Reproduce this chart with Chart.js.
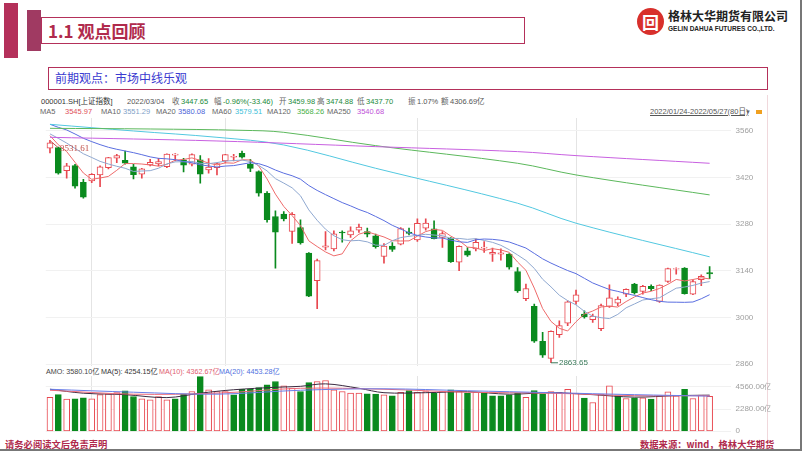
<!DOCTYPE html>
<html>
<head>
<meta charset="utf-8">
<script src="https://cdn.jsdelivr.net/npm/chart.js@4.4.0/dist/chart.umd.min.js"></script>
<style>
  html, body { margin: 0; padding: 0; background: #fff; }
  #page { position: relative; width: 802px; height: 451px; overflow: hidden;
          font-family: "Noto Sans CJK SC", "Noto Sans", sans-serif; }
  .t { position: absolute; white-space: nowrap; font-size: 7.5px; line-height: 10px; color: #666;
       font-family: "Liberation Sans", "Noto Sans CJK SC", sans-serif; }
  .g { color: #1b8a3a; }
  canvas { position: absolute; left: 0; top: 0; }
</style>
</head>
<body>
<div id="page">

  <!-- slide header -->
  <div style="position:absolute;left:4px;top:3px;width:14px;height:55px;background:#b4305a;"></div>
  <div style="position:absolute;left:27px;top:10px;width:14px;height:41px;background:#a03a62;"></div>
  <div style="position:absolute;left:41px;top:17px;width:484px;height:27px;border:1px solid #b4305a;box-sizing:border-box;"></div>
  <div style="position:absolute;left:48px;top:20px;font-size:17px;font-weight:bold;color:#b02a4c;line-height:22px;">1.1 观点回顾</div>

  <div style="position:absolute;left:637px;top:8px;width:27px;height:27px;border-radius:50%;background:#d8302c;color:#fff;font-size:17px;font-weight:bold;line-height:27px;text-align:center;">回</div>
  <div style="position:absolute;left:668px;top:8px;font-size:12px;font-weight:bold;color:#222;line-height:15px;">格林大华期货有限公司</div>
  <div style="position:absolute;left:668px;top:24px;font-size:6.5px;font-weight:bold;color:#222;line-height:9px;font-family:'Liberation Sans',sans-serif;">GELIN DAHUA FUTURES CO.,LTD.</div>

  <div style="position:absolute;left:48px;top:67px;width:720px;height:23px;border:1px solid #b4305a;box-sizing:border-box;"></div>
  <div style="position:absolute;left:55px;top:70px;font-size:12px;color:#3a3ad0;line-height:16px;">前期观点：市场中线乐观</div>

  <!-- wind header -->
  <div class="t" style="left:41px;top:97px;color:#333;">000001.SH[上证指数]</div>
  <div class="t" style="left:127px;top:97px;color:#555;">2022/03/04</div>
  <div class="t" style="left:172px;top:97px;">收</div><div class="t g" style="left:181px;top:97px;">3447.65</div>
  <div class="t" style="left:214px;top:97px;">幅</div><div class="t g" style="left:223px;top:97px;">-0.96%(-33.46)</div>
  <div class="t" style="left:279px;top:97px;">开</div><div class="t g" style="left:288px;top:97px;">3459.98</div>
  <div class="t" style="left:317px;top:97px;">高</div><div class="t g" style="left:326px;top:97px;">3474.88</div>
  <div class="t" style="left:357px;top:97px;">低</div><div class="t g" style="left:366px;top:97px;">3437.70</div>
  <div class="t" style="left:408px;top:97px;">振</div><div class="t" style="left:417px;top:97px;color:#555;">1.07%</div>
  <div class="t" style="left:441px;top:97px;">额</div><div class="t" style="left:450px;top:97px;color:#555;">4306.69亿</div>

  <div class="t" style="left:40px;top:107px;">MA5</div><div class="t" style="left:65px;top:107px;color:#e0505a;">3545.97</div>
  <div class="t" style="left:101px;top:107px;">MA10</div><div class="t" style="left:123px;top:107px;color:#7f9fc8;">3551.29</div>
  <div class="t" style="left:156px;top:107px;">MA20</div><div class="t" style="left:178px;top:107px;color:#4a5fd8;">3580.08</div>
  <div class="t" style="left:212px;top:107px;">MA60</div><div class="t" style="left:235px;top:107px;color:#40c0d8;">3579.51</div>
  <div class="t" style="left:267px;top:107px;">MA120</div><div class="t" style="left:297px;top:107px;color:#48b048;">3568.26</div>
  <div class="t" style="left:327px;top:107px;">MA250</div><div class="t" style="left:357px;top:107px;color:#c050d8;">3540.68</div>

  <div class="t" style="left:650px;top:107px;color:#555;text-decoration:underline;">2022/01/24-2022/05/27(80日)</div>
  <div class="t" style="left:745px;top:107px;color:#666;font-size:6px;">▼</div>
  <div style="position:absolute;left:756px;top:110px;width:6px;height:4px;background:#f0a020;"></div>

  <div class="t" style="left:46px;top:367px;color:#444;font-size:7.2px;">AMO: 3580.10亿</div>
  <div class="t" style="left:101px;top:367px;color:#333;font-size:7.2px;">MA(5): 4254.15亿</div>
  <div class="t" style="left:159px;top:367px;color:#e06070;font-size:7.2px;">MA(10): 4362.67亿</div>
  <div class="t" style="left:219px;top:367px;color:#5070e0;font-size:7.2px;">MA(20): 4453.28亿</div>

  <div style="position:absolute;left:767px;top:95px;width:1px;height:345px;background:#f0d8dc;"></div>

  <!-- footer -->
  <div style="position:absolute;left:5px;top:438px;font-size:9.3px;font-weight:bold;color:#b02a4c;line-height:12px;">请务必阅读文后免责声明</div>
  <div style="position:absolute;left:640px;top:438px;font-size:9.3px;font-weight:bold;color:#b02a4c;line-height:12px;">数据来源：wind，格林大华期货</div>
  <div style="position:absolute;left:800px;top:0;width:2px;height:451px;background:#777;"></div>
  <div style="position:absolute;left:0;top:449px;width:802px;height:2px;background:#777;"></div>

  <canvas id="price-chart" width="802" height="451"></canvas>
  <canvas id="amo-chart" width="802" height="451"></canvas>
</div>

<script>
// 交易日 2022/01/24 - 2022/05/27
const dates = ['01/24','01/25','01/26','01/27','01/28','02/07','02/08','02/09','02/10','02/11',
  '02/14','02/15','02/16','02/17','02/18','02/21','02/22','02/23','02/24','02/25',
  '02/28','03/01','03/02','03/03','03/04','03/07','03/08','03/09','03/10','03/11',
  '03/14','03/15','03/16','03/17','03/18','03/21','03/22','03/23','03/24','03/25',
  '03/28','03/29','03/30','03/31','04/01','04/06','04/07','04/08','04/11','04/12',
  '04/13','04/14','04/15','04/18','04/19','04/20','04/21','04/22','04/25','04/26',
  '04/27','04/28','04/29','05/05','05/06','05/09','05/10','05/11','05/12','05/13',
  '05/16','05/17','05/18','05/19','05/20','05/23','05/24','05/25','05/26','05/27'];

const opens = [3508,3510,3441,3456,3406,3410,3428,3450,3478,3472,
  3452,3430,3458,3461,3453,3487,3473,3460,3473,3443,
  3450,3470,3481,3493,3459.98,3438,3373,3303,3310,3258,
  3270,3193,3110,3211,3206,3256,3248,3262,3258,3245,
  3183,3214,3220,3256,3233,3268,3266,3240,3238,3166,
  3200,3206,3208,3190,3190,3190,3138,3056,3033,2928,
  2877,2948,2983,3048,3010,2993,2966,3033,3043,3070,
  3100,3078,3093,3048,3108,3145,3148,3070,3113,3135];
const highs = [3531.61,3512,3463,3460,3415,3432,3455,3481,3490,3500,
  3460,3448,3475,3478,3491,3492,3478,3491,3486,3477,
  3463,3490,3490,3500,3474.88,3440,3378,3320,3318,3315,
  3293,3195,3175,3258,3260,3260,3272,3280,3268,3250,
  3222,3225,3270,3268,3296,3296,3290,3258,3240,3215,
  3210,3236,3228,3208,3206,3192,3150,3100,3040,2955,
  2960,2990,3050,3082,3020,3010,3040,3098,3062,3086,
  3102,3096,3098,3098,3148,3149,3150,3112,3128,3153];
const lows = [3494,3430,3418,3388,3358,3405,3393,3446,3465,3460,
  3416,3418,3455,3455,3450,3470,3437,3455,3403,3433,
  3428,3464,3470,3478,3437.70,3364,3286,3148,3290,3222,
  3220,3062,3026,3203,3200,3226,3240,3255,3242,3208,
  3163,3198,3218,3248,3228,3262,3236,3210,3165,3140,
  3183,3200,3195,3168,3172,3145,3075,3050,2925,2880,
  2863.65,2940,2975,3040,2998,2985,2960,3030,3035,3062,
  3070,3070,3080,3045,3105,3130,3070,3068,3095,3116];
const closes = [3524.11,3433.06,3455.67,3394.25,3361.44,3429.58,3452.63,3479.95,3485.91,3462.95,
  3428.88,3446.09,3465.83,3468.04,3490.76,3490.61,3457.15,3489.15,3429.96,3451.41,
  3462.31,3488.83,3484.19,3481.11,3447.65,3372.86,3293.53,3256.39,3296.09,3309.75,
  3223.53,3063.97,3170.71,3215.04,3251.07,3253.69,3259.86,3271.03,3250.26,3212.24,
  3214.50,3203.94,3266.60,3252.20,3282.72,3283.43,3236.70,3251.85,3167.13,3213.33,
  3186.82,3225.64,3211.24,3195.52,3194.03,3151.05,3079.81,3086.92,2928.51,2886.43,
  2958.28,2975.49,3047.06,3067.76,3001.56,3004.14,3035.84,3058.70,3054.99,3084.28,
  3073.75,3093.70,3085.98,3096.97,3146.57,3146.86,3070.93,3107.46,3123.11,3130.24];

const ma5 = [3545.97,3518.60,3498.09,3465.93,3433.71,3414.80,3418.71,3423.57,3441.90,3462.20,
  3462.06,3460.76,3457.93,3454.36,3459.92,3472.27,3474.48,3479.14,3471.53,3463.66,
  3458.00,3464.33,3463.34,3473.57,3472.82,3454.93,3415.87,3370.31,3333.30,3305.72,
  3275.86,3229.95,3212.81,3196.60,3184.86,3190.90,3230.07,3250.14,3257.18,3249.42,
  3241.58,3230.39,3229.51,3229.90,3243.99,3257.78,3264.33,3261.38,3244.37,3230.49,
  3211.17,3208.95,3200.83,3206.51,3202.65,3195.50,3166.33,3141.47,3088.06,3026.54,
  2987.99,2967.13,2959.15,2987.00,3010.03,3019.20,3031.27,3033.60,3031.05,3047.59,
  3061.51,3073.08,3078.54,3086.94,3099.39,3114.02,3109.46,3113.76,3118.99,3115.72];
const ma10 = [3551.29,3537.85,3523.68,3507.57,3491.59,3480.38,3468.66,3460.83,3453.92,3447.96,
  3438.43,3439.74,3440.75,3448.13,3461.06,3467.17,3467.62,3468.54,3462.94,3461.79,
  3465.13,3469.41,3471.24,3472.55,3468.24,3456.46,3440.10,3416.82,3403.44,3389.27,
  3365.39,3322.91,3291.56,3264.95,3245.29,3233.38,3230.01,3231.47,3226.89,3217.14,
  3216.24,3230.23,3239.82,3243.54,3246.70,3249.68,3247.36,3245.44,3237.13,3237.24,
  3234.47,3236.64,3231.11,3225.44,3216.57,3203.33,3187.64,3171.15,3147.29,3114.60,
  3091.74,3066.73,3050.31,3037.53,3018.29,3003.60,2999.20,2996.38,3009.03,3028.81,
  3040.36,3052.18,3056.07,3058.99,3073.49,3087.76,3091.27,3096.15,3102.96,3107.56];
const ma20 = [3580.08,3571.0,3563.0,3551.0,3538.0,3528.0,3519.0,3511.0,3505.0,3500.0,
  3494.86,3488.80,3482.22,3477.85,3476.33,3473.78,3468.14,3464.69,3458.43,3454.88,
  3451.78,3454.58,3456.00,3460.34,3464.65,3461.82,3453.86,3442.68,3433.19,3425.53,
  3415.26,3396.16,3381.40,3368.75,3356.77,3344.92,3335.06,3324.15,3315.17,3303.21,
  3290.82,3276.57,3265.69,3254.25,3246.00,3241.53,3238.69,3238.46,3232.01,3227.19,
  3225.36,3233.44,3235.47,3234.49,3231.64,3226.51,3217.50,3208.30,3192.21,3175.92,
  3163.11,3151.69,3140.71,3131.49,3117.43,3103.47,3093.42,3083.77,3078.16,3071.71,
  3066.05,3059.46,3053.19,3048.26,3045.89,3045.68,3045.24,3046.27,3056.00,3068.19];

// 长周期均线，按图读数的节点 [序号, 数值]
const ma60Pts = [[0,3580],[10,3560],[20,3541],[28,3518],[39,3448],[56,3343],[63,3283],[79,3182]];
const ma120Pts = [[0,3568],[12,3566],[23,3562],[28,3556],[39,3516],[56,3463],[63,3428],[79,3368]];
const ma250Pts = [[0,3541],[20,3530],[39,3513],[56,3498],[63,3486],[79,3463]];

// 成交额(亿)
const amo = [3490,3760,3290,3320,3420,3320,3760,3830,3970,4140,
  3560,3320,3220,3560,3220,3320,3800,4070,5590,4240,
  4070,4070,3730,4300,4306.69,4470,4750,5090,4640,4410,
  4070,4980,5090,5190,4240,4070,3900,3900,3830,3800,
  3730,3630,4000,4170,4000,4070,3900,4070,4240,4070,
  3900,4000,4000,3630,3630,3730,3900,3490,4170,3830,
  4070,4000,4300,3900,3390,2950,3800,4640,3630,3360,
  3420,3420,3290,3630,4030,3630,4300,3360,3700,3580.10];
const amoMa5Pts = [[0,4300],[4,3900],[9,3750],[14,3450],[18,3900],[22,4250],[27,4500],[30,4600],[33,4850],[37,4400],[40,3950],[45,3950],[50,4050],[55,3800],[60,3950],[65,3750],[70,3500],[75,3650],[79,3700]];
const amoMa10Pts = [[0,4200],[10,3800],[20,3900],[30,4400],[40,4300],[50,4000],[60,3900],[70,3650],[79,3650]];
const amoMa20Pts = [[0,4300],[10,4000],[20,3800],[30,4200],[40,4350],[50,4150],[60,3950],[70,3750],[79,3600]];

const priceTicks = [2860, 3000, 3140, 3280, 3420, 3560];
const amoTicks = [0, 2280, 4560];
const monthStarts = ['02/07', '03/01', '04/01', '05/05'];

const RED = '#e8474f';
const GREEN = '#0a8a1e';

const labels = dates.concat(['', '']);
const up = closes.map((c, i) => c >= opens[i]);
const amoUp = closes.map((c, i) => c >= (i ? closes[i - 1] : opens[i]));

function sparse(pts) {
  const arr = new Array(dates.length).fill(null);
  pts.forEach(([i, v]) => { arr[i] = v; });
  return arr;
}

function xAxis() {
  return {
    type: 'category',
    offset: true,
    grid: {
      offset: false,
      drawTicks: false,
      color: c => (c.tick && monthStarts.includes(labels[c.index])) ? '#e4e4e4' : 'rgba(0,0,0,0)'
    },
    border: { display: false },
    ticks: { display: false, autoSkip: false },
    afterFit: s => { s.height = 0; }
  };
}

function line(data, color, extra) {
  return Object.assign({
    type: 'line', data: data, borderColor: color, borderWidth: 1,
    pointRadius: 0, fill: false, order: 1, tension: 0
  }, extra || {});
}

const marks = {
  id: 'marks',
  afterDatasetsDraw(chart) {
    const { ctx, scales: { x, y } } = chart;
    ctx.save();
    ctx.lineWidth = 1;
    const hx = x.getPixelForValue(0), hy = y.getPixelForValue(highs[0]);
    ctx.strokeStyle = '#c0504a';
    ctx.beginPath(); ctx.moveTo(hx + 1, hy + 1); ctx.lineTo(hx + 8, hy + 7); ctx.stroke();
    ctx.fillStyle = '#c0504a';
    ctx.font = '9px "Liberation Serif"';
    ctx.textBaseline = 'middle';
    ctx.fillText(highs[0].toFixed(2), hx + 10, hy + 8);

    const li = lows.indexOf(Math.min(...lows));
    const lx = x.getPixelForValue(li), ly = y.getPixelForValue(lows[li]);
    ctx.strokeStyle = '#3a7a5a';
    ctx.beginPath(); ctx.moveTo(lx, ly); ctx.lineTo(lx + 7, ly); ctx.stroke();
    ctx.fillStyle = '#3a7a5a';
    ctx.font = '8px "Liberation Sans"';
    ctx.fillText(lows[li].toFixed(2), lx + 8, ly);
    ctx.restore();
  }
};

// 成交额轴的 0 刻度标签贴在绘图区底边，单独按刻度位置补写
const zeroLabel = {
  id: 'zeroLabel',
  afterDraw(chart) {
    const { ctx, scales: { y } } = chart;
    ctx.save();
    ctx.fillStyle = '#a0a0a0';
    ctx.font = '8px "Liberation Sans"';
    ctx.textBaseline = 'middle';
    ctx.fillText('0', y.left + 5, y.getPixelForValue(0) - 1);
    ctx.restore();
  }
};

new Chart(document.getElementById('price-chart'), {
  data: {
    labels: labels,
    datasets: [
      {
        type: 'bar', data: lows.map((l, i) => [l, highs[i]]),
        backgroundColor: up.map(u => u ? RED : GREEN),
        barThickness: 1, grouped: false, order: 3
      },
      {
        type: 'bar', data: opens.map((o, i) => [o, closes[i]]),
        backgroundColor: up.map(u => u ? '#ffffff' : GREEN),
        borderColor: up.map(u => u ? RED : GREEN),
        borderWidth: 1, borderSkipped: false,
        barThickness: 6, grouped: false, order: 2
      },
      line(sparse(ma250Pts), '#c860e0', { spanGaps: true, tension: 0.35 }),
      line(sparse(ma120Pts), '#5cb85c', { spanGaps: true, tension: 0.35 }),
      line(sparse(ma60Pts), '#52c8e0', { spanGaps: true, tension: 0.35 }),
      line(ma20, '#5a6ee0'),
      line(ma10, '#8fa8d0'),
      line(ma5, '#ee6a6a')
    ]
  },
  options: {
    responsive: false,
    animation: false,
    layout: { padding: { left: 45.8, right: 31.5, top: 118, bottom: 85 } },
    plugins: { legend: { display: false }, tooltip: { enabled: false } },
    scales: {
      x: xAxis(),
      y: {
        position: 'right',
        min: 2854, max: 3599,
        afterBuildTicks: s => { s.ticks = priceTicks.map(v => ({ value: v })); },
        afterFit: s => { s.width = 40; },
        grid: { color: '#f1f1f1', drawTicks: false },
        border: { display: false },
        ticks: {
          padding: 5, autoSkip: false, color: '#a0a0a0',
          font: { size: 8, family: 'Liberation Sans' },
          callback: v => String(v)
        }
      }
    }
  },
  plugins: [marks]
});

new Chart(document.getElementById('amo-chart'), {
  data: {
    labels: labels,
    datasets: [
      {
        type: 'bar', data: amo,
        backgroundColor: amoUp.map(u => u ? '#ffffff' : GREEN),
        borderColor: amoUp.map(u => u ? RED : GREEN),
        borderWidth: 1, borderSkipped: false,
        barThickness: 6, grouped: false, order: 2
      },
      line(sparse(amoMa20Pts), '#6a7ee8', { spanGaps: true, tension: 0.35 }),
      line(sparse(amoMa10Pts), '#ee6a7a', { spanGaps: true, tension: 0.35 }),
      line(sparse(amoMa5Pts), '#3a2a40', { spanGaps: true, tension: 0.35 })
    ]
  },
  options: {
    responsive: false,
    animation: false,
    layout: { padding: { left: 45.8, right: 31.5, top: 376, bottom: 19.5 } },
    plugins: { legend: { display: false }, tooltip: { enabled: false } },
    scales: {
      x: xAxis(),
      y: {
        position: 'right',
        min: 0, max: 5650,
        afterBuildTicks: s => { s.ticks = amoTicks.map(v => ({ value: v })); },
        afterFit: s => { s.width = 40; },
        grid: { color: '#f1f1f1', drawTicks: false },
        border: { display: false },
        ticks: {
          padding: 5, autoSkip: false, color: '#a0a0a0',
          font: { size: 8, family: 'Liberation Sans' },
          callback: v => v === 0 ? '' : v.toFixed(2) + '亿'
        }
      }
    }
  },
  plugins: [zeroLabel]
});
</script>
</body>
</html>
